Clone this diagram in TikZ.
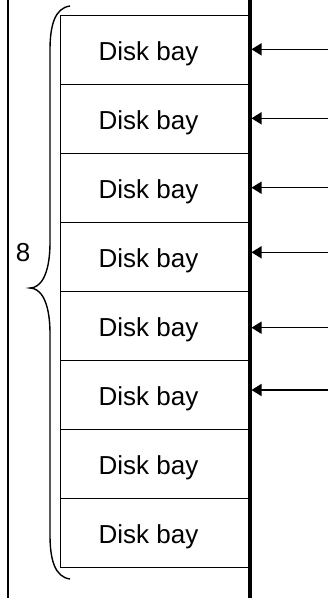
\documentclass[tikz,border=0pt]{standalone}
\usepackage{fontspec}
\setmainfont{Liberation Sans}
\usetikzlibrary{arrows.meta}
\begin{document}
\begin{tikzpicture}[x=1pt,y=-1pt,
  baybox/.style={draw, line width=1.3pt, minimum width=190pt, minimum height=69pt, inner sep=0pt, anchor=north west},
  baytext/.style={font=\fontsize{26}{30}\selectfont, inner sep=0pt, anchor=base},
  feed/.style={line width=1.5pt, -{Triangle[length=10pt,width=12pt]}},
  rail/.style={line width=3.3pt},
  wall/.style={line width=1.6pt},
  bracestyle/.style={line width=1.4pt}]
\useasboundingbox (0,0) rectangle (328,598);
% boxes
\foreach \i in {1,...,8}{
  \node[baybox] (b\i) at (60,{15+69*(\i-1)}) {};
  \node[baytext] (t\i) at (148.5,{15+69*(\i-1)+45.5}) {Disk bay};
}
% rail and wall
\coordinate (railtop) at (250,0);
\coordinate (railbot) at (250,598);
\draw[rail] (railtop) -- (railbot);
\coordinate (walltop) at (8,0);
\coordinate (wallbot) at (8,598);
\draw[wall] (walltop) -- (wallbot);
% arrows
\coordinate (tip) at (251.5,0);
\foreach \k/\y in {1/49.3,2/118.3,3/187.7,4/252.3,5/327.7,6/390}{
  \coordinate (a\k) at (328,\y);
  \draw[feed] (a\k) -- (a\k -| tip);
}
% brace
\draw[bracestyle] (70,6) .. controls (55,8) and (50,25) .. (50,50) -- (50,242)
  .. controls (50,276) and (40,288) .. (30,288)
  .. controls (40,288) and (50,300) .. (50,334) -- (50,535)
  .. controls (50,560) and (55,577) .. (70,579);
\node[baytext] (n8) at (23,261.7) {8};
\end{tikzpicture}
\end{document}
